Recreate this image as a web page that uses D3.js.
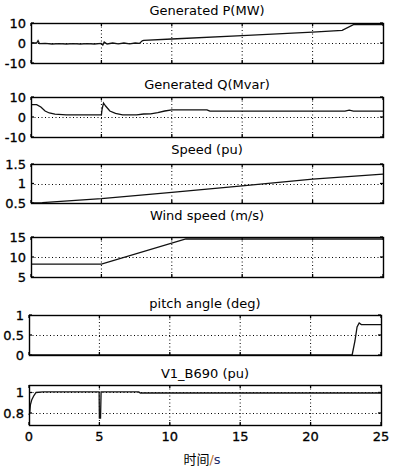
<!DOCTYPE html>
<html>
<head>
<meta charset="utf-8">
<script src="https://cdn.jsdelivr.net/npm/d3@7"></script>
<style>
body { margin: 0; background: #fff; }
text { font-family: "DejaVu Sans", sans-serif; fill: #000; }
</style>
</head>
<body>
<div class="chart"></div>
<script>
// x axis (time, s)
var xTicks = [0, 5, 10, 15, 20, 25];

// Generated P (MW)
var tP = [0, 0.4, 0.5, 0.6, 1, 1.5, 2, 2.5, 3, 3.5, 4, 4.5, 5, 5.1, 5.2, 5.4, 5.8, 6.2, 6.6, 7, 7.4, 7.7, 7.9, 8, 10, 15, 20, 22.1, 22.9, 25];
var vP = [0, 0, 1.2, -0.3, -0.2, -0.5, -0.3, -0.5, -0.3, -0.5, -0.3, -0.5, -0.2, -1, 0.5, -0.5, 0, -0.4, 0, -0.4, 0, -0.2, 1.1, 1.3, 2, 3.65, 5.4, 6.3, 9.2, 9.2];

// Generated Q (Mvar)
var tQ = [0, 0.4, 0.7, 1, 1.3, 1.7, 2.5, 5, 5.05, 5.15, 5.3, 5.6, 6, 6.5, 7.5, 8, 8.5, 9, 9.5, 10, 12.5, 12.7, 22.3, 22.6, 22.9, 25];
var vQ = [6.2, 6.2, 5, 3, 2, 1.4, 1.1, 1.1, 4, 7, 5.5, 3, 1.8, 1.1, 1.1, 1.5, 1.6, 2.2, 3, 3.6, 3.6, 2.9, 2.9, 3.4, 2.9, 2.9];

// Speed (pu)
var tS = [0, 0.8, 5, 10, 15, 20, 25];
var vS = [0.5, 0.51, 0.61, 0.77, 0.94, 1.11, 1.24];

// Wind speed (m/s)
var tW = [0, 5, 11, 25];
var vW = [8.2, 8.2, 14.5, 14.5];

// pitch angle (deg)
var tA = [0, 22.95, 23.15, 23.3, 23.45, 23.6, 25];
var vA = [0, 0, 0.35, 0.7, 0.8, 0.76, 0.76];

// V1_B690 (pu)
var tV = [0, 0.05, 0.1, 0.2, 0.35, 0.5, 1, 4.98, 5.0, 5.08, 5.12, 7.8, 7.9, 25];
var vV = [0.78, 0.8, 0.88, 0.93, 0.97, 1.0, 1.005, 1.005, 0.75, 0.75, 1.005, 1.005, 0.995, 0.995];

var titles = ["Generated P(MW)", "Generated Q(Mvar)", "Speed (pu)", "Wind speed (m/s)", "pitch angle (deg)", "V1_B690 (pu)"];
var yTicks = [[-10, 0, 10], [-10, 0, 10], [0.5, 1, 1.5], [5, 10, 15], [0, 0.5, 1], [0.8, 1]];
var yTickLabels = [["-10", "0", "10"], ["-10", "0", "10"], ["0.5", "1", "1.5"], ["5", "10", "15"], ["0", "0.5", "1"], ["0.8", "1"]];
var yGrid = [[0], [0], [1], [10], [0.5], [0.8, 1]];
var yDomains = [[-10, 10], [-10, 10], [0.5, 1.5], [5, 15], [0, 1], [0.683, 1.073]];

var svgWidth = 394, svgHeight = 471;

var svg = d3.select(".chart").append("svg")
    .attr("width", svgWidth)
    .attr("height", svgHeight);

// panel boxes (left, right, top, bottom) and title baselines
var boxes = [
    [31, 383, 23, 63],
    [31, 383, 97, 137],
    [31, 383, 164, 203],
    [31, 383, 237, 277],
    [29, 381, 315, 355],
    [29, 381, 385, 425]
];
var titleY = [15, 89, 154, 220, 308, 378];
var series = [[tP, vP], [tQ, vQ], [tS, vS], [tW, vW], [tA, vA], [tV, vV]];

boxes.forEach(function(b, i) {
    var x = d3.scaleLinear().domain([0, 25]).range([b[0], b[1]]);
    var y = d3.scaleLinear().domain(yDomains[i]).range([b[3], b[2]]);
    var g = svg.append("g");

    // dotted grid
    xTicks.slice(1, -1).forEach(function(t) {
        g.append("line")
            .attr("x1", x(t)).attr("x2", x(t))
            .attr("y1", b[2]).attr("y2", b[3])
            .attr("stroke", "#000").attr("stroke-width", 1)
            .attr("stroke-dasharray", "1,2.5");
    });
    yGrid[i].forEach(function(v) {
        g.append("line")
            .attr("x1", b[0]).attr("x2", b[1])
            .attr("y1", Math.round(y(v)) + 0.5).attr("y2", Math.round(y(v)) + 0.5)
            .attr("stroke", "#000").attr("stroke-width", 1)
            .attr("stroke-dasharray", "1,2.5");
    });

    // inward tick marks
    xTicks.forEach(function(t) {
        g.append("line").attr("x1", x(t)).attr("x2", x(t))
            .attr("y1", b[3]).attr("y2", b[3] - 3).attr("stroke", "#000").attr("stroke-width", 1.3);
        g.append("line").attr("x1", x(t)).attr("x2", x(t))
            .attr("y1", b[2]).attr("y2", b[2] + 3).attr("stroke", "#000").attr("stroke-width", 1.3);
    });
    yTicks[i].forEach(function(v) {
        g.append("line").attr("x1", b[0]).attr("x2", b[0] + 3)
            .attr("y1", y(v)).attr("y2", y(v)).attr("stroke", "#000").attr("stroke-width", 1.3);
        g.append("line").attr("x1", b[1]).attr("x2", b[1] - 3)
            .attr("y1", y(v)).attr("y2", y(v)).attr("stroke", "#000").attr("stroke-width", 1.3);
    });

    // data line
    var pts = series[i][0].map(function(t, k) { return [t, series[i][1][k]]; });
    g.append("path")
        .datum(pts)
        .attr("fill", "none")
        .attr("stroke", "#111")
        .attr("stroke-width", 1.3)
        .attr("d", d3.line().x(function(d) { return x(d[0]); }).y(function(d) { return y(d[1]); }));

    // frame
    g.append("rect")
        .attr("x", b[0] + 0.5).attr("y", b[2] + 0.5)
        .attr("width", b[1] - b[0]).attr("height", b[3] - b[2])
        .attr("fill", "none").attr("stroke", "#000").attr("stroke-width", 1.4);

    // y tick labels
    yTicks[i].forEach(function(v, k) {
        g.append("text")
            .attr("x", b[0] - 5).attr("y", y(v))
            .attr("dy", "0.36em")
            .attr("text-anchor", "end")
            .attr("font-size", 13)
            .attr("stroke", "#000").attr("stroke-width", 0.3)
            .text(yTickLabels[i][k]);
    });

    // title
    g.append("text")
        .attr("x", (b[0] + b[1]) / 2).attr("y", titleY[i])
        .attr("text-anchor", "middle")
        .attr("font-size", 13)
        .text(titles[i]);

    // x tick labels on bottom panel only
    if (i === boxes.length - 1) {
        xTicks.forEach(function(t) {
            g.append("text")
                .attr("x", x(t)).attr("y", b[3] + 11)
                .attr("dy", "0.36em")
                .attr("text-anchor", "middle")
                .attr("font-size", 13)
                .attr("stroke", "#000").attr("stroke-width", 0.3)
                .text(t);
        });
    }
});

// x axis label
var xl = svg.append("text")
    .attr("x", 202).attr("y", 459)
    .attr("dy", "0.36em")
    .attr("text-anchor", "middle")
    .attr("font-size", 13);
xl.append("tspan").style("font-family", "'Noto Sans CJK SC', sans-serif").text("时间");
xl.append("tspan").style("fill", "#b8701e").text("/");
xl.append("tspan").style("fill", "#1c2a6a").text("s");
</script>
</body>
</html>
